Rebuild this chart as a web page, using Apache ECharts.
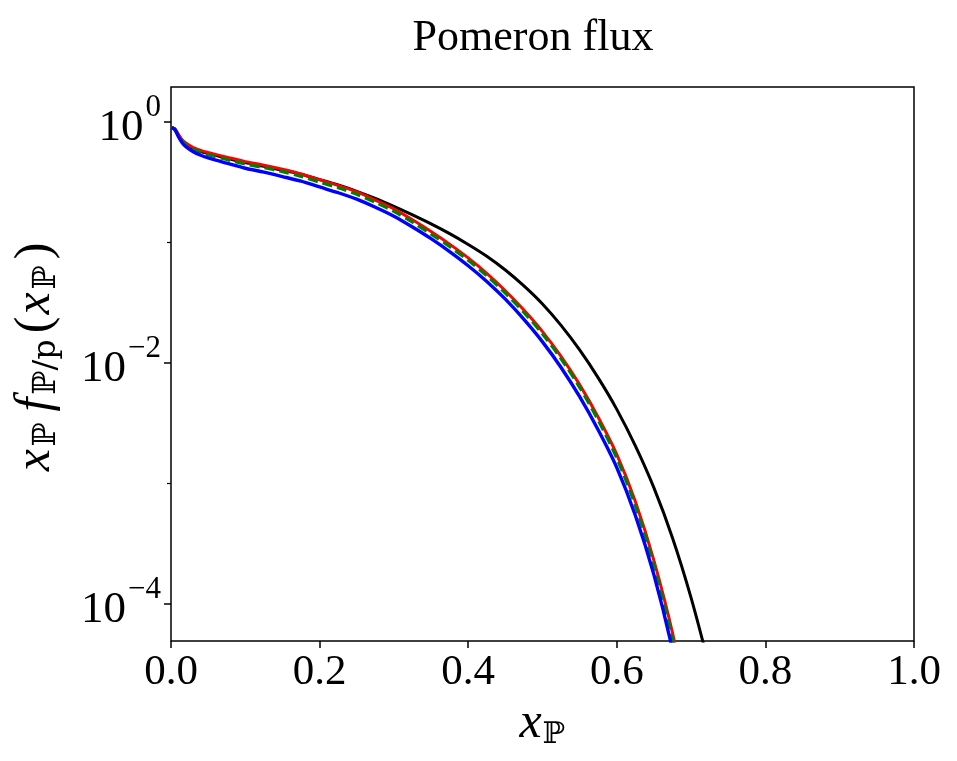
<!DOCTYPE html>
<html>
<head>
<meta charset="utf-8">
<title>Pomeron flux</title>
<script src="https://cdn.jsdelivr.net/npm/echarts@6/dist/echarts.min.js"></script>
<style>
html, body { margin: 0; background: #fff; }
#chart { width: 957px; height: 761px; }
</style>
</head>
<body>
<div id="chart"></div>
<script>
// x_P sample points
const xPom = [0.001, 0.005, 0.01, 0.015, 0.02, 0.03, 0.04, 0.05, 0.075, 0.1, 0.125, 0.15, 0.175,
  0.2, 0.225, 0.25, 0.275, 0.3, 0.325, 0.35, 0.375, 0.4, 0.425, 0.45, 0.475, 0.5, 0.525,
  0.55, 0.575, 0.6, 0.625, 0.65, 0.675, 0.7, 0.725];

// x_P f(x_P), one list per curve
const fluxBlack = [0.902, 0.881, 0.778, 0.702, 0.660, 0.605, 0.571, 0.549, 0.503, 0.462, 0.431, 0.399, 0.370,
  0.334, 0.301, 0.267, 0.233, 0.200, 0.170, 0.1432, 0.1189, 0.0968, 0.0773, 0.0594, 0.0438, 0.0310, 0.0206,
  0.01288, 0.00755, 0.00414, 0.00206, 0.000923, 0.000355, 0.000113, 0.0000296];
const fluxRed = [0.902, 0.881, 0.794, 0.716, 0.673, 0.617, 0.583, 0.560, 0.513, 0.471, 0.440, 0.407, 0.372,
  0.333, 0.299, 0.264, 0.226, 0.191, 0.155, 0.124, 0.0973, 0.0748, 0.0557, 0.0399, 0.0276, 0.0183, 0.0114,
  0.00664, 0.00356, 0.00175, 0.000711, 0.000230, 0.0000578, 0.0000103];
const fluxGreen = [0.902, 0.877, 0.779, 0.700, 0.655, 0.597, 0.562, 0.537, 0.490, 0.450, 0.420, 0.389, 0.355,
  0.318, 0.286, 0.252, 0.216, 0.182, 0.148, 0.118, 0.0929, 0.0714, 0.0532, 0.0381, 0.0264, 0.01748, 0.01089,
  0.00631, 0.00336, 0.00163, 0.000656, 0.000210, 0.0000521, 0.00000918];
const fluxBlue = [0.902, 0.871, 0.758, 0.676, 0.628, 0.569, 0.532, 0.505, 0.457, 0.415, 0.385, 0.354, 0.324,
  0.290, 0.260, 0.230, 0.197, 0.166, 0.135, 0.108, 0.0844, 0.0644, 0.0477, 0.0340, 0.0231, 0.01504, 0.00922,
  0.00527, 0.00279, 0.00136, 0.000545, 0.000175, 0.0000418, 0.00000713];

const yMajorTicks = [1, 0.01, 0.0001];
const yMinorTicks = [0.1, 0.001];

const serif = 'Liberation Serif, DejaVu Serif, serif';
const yMin = 4.95e-5;
const yMax = 1.96;

function pairs(vals) {
  return vals.map((v, i) => [xPom[i], v]);
}

function logLabel(value) {
  const e = Math.round(Math.log10(value));
  const s = e < 0 ? '\u2212' + (-e) : String(e);
  return '{b|10}{s|' + s + '}';
}

const chart = echarts.init(document.getElementById('chart'));

const option = {
  animation: false,
  backgroundColor: '#fff',
  title: {
    text: 'Pomeron flux',
    left: 528,
    top: 11,
    textAlign: 'center',
    textStyle: { fontFamily: serif, fontSize: 44, fontWeight: 'normal', color: '#000' }
  },
  grid: {
    left: 171, right: 43, top: 87, bottom: 120,
    show: true, borderColor: '#000', borderWidth: 1.5, backgroundColor: 'transparent'
  },
  xAxis: {
    type: 'value',
    min: 0, max: 1, interval: 0.2,
    axisLine: { show: false },
    axisTick: { show: true, length: 7, lineStyle: { color: '#000', width: 1.5 } },
    axisLabel: {
      color: '#000', fontFamily: serif, fontSize: 43, margin: 10,
      formatter: v => v.toFixed(1)
    },
    splitLine: { show: false },
    name: '{i|x}{s|\u2119}',
    nameLocation: 'middle',
    nameGap: 48,
    nameTextStyle: {
      rich: {
        i: { fontFamily: serif, fontStyle: 'italic', fontSize: 50, color: '#000' },
        s: { fontFamily: 'DejaVu Serif, serif', fontSize: 30, color: '#000', padding: [22, 0, 0, 1] }
      }
    }
  },
  yAxis: [
    {
      type: 'log',
      logBase: 10,
      min: yMin, max: yMax,
      axisLine: { show: false },
      axisTick: { show: true, length: 7, customValues: yMajorTicks, lineStyle: { color: '#000', width: 1.5 } },
      axisLabel: {
        customValues: yMajorTicks,
        margin: 10,
        formatter: logLabel,
        rich: {
          b: { fontFamily: serif, fontSize: 45, color: '#000', padding: [12, 0, 0, 0] },
          s: { fontFamily: serif, fontSize: 31, color: '#000', padding: [0, 0, 28, 2] }
        }
      },
      splitLine: { show: false },
      name: '{first|x}{s|\u2119}  {i|f}{s|\u2119/p}{n|(}{i|x}{s|\u2119}{n|)}',
      nameLocation: 'middle',
      nameRotate: 90,
      nameGap: 108,
      nameTextStyle: {
        rich: {
          first: { fontFamily: serif, fontStyle: 'italic', fontSize: 50, color: '#000', padding: [0, 0, 0, 16] },
          i: { fontFamily: serif, fontStyle: 'italic', fontSize: 50, color: '#000' },
          n: { fontFamily: serif, fontSize: 50, color: '#000', padding: [0, 2, 0, 2] },
          s: { fontFamily: 'DejaVu Serif, serif', fontSize: 32, color: '#000', padding: [22, 4, 0, 3] }
        }
      }
    },
    {
      type: 'log',
      logBase: 10,
      min: yMin, max: yMax,
      position: 'left',
      axisLine: { show: false },
      axisTick: { show: true, length: 4, customValues: yMinorTicks, lineStyle: { color: '#000', width: 1.2 } },
      axisLabel: { show: false },
      splitLine: { show: false }
    }
  ],
  series: [
    {
      name: 'black', type: 'line', data: pairs(fluxBlack), showSymbol: false, symbol: 'none',
      smooth: 0.3, lineStyle: { color: '#000', width: 3 }
    },
    {
      name: 'red', type: 'line', data: pairs(fluxRed), showSymbol: false, symbol: 'none',
      smooth: 0.3, lineStyle: { color: '#ff0000', width: 3 }
    },
    {
      name: 'green', type: 'line', data: pairs(fluxGreen), showSymbol: false, symbol: 'none',
      smooth: 0.3, lineStyle: { color: '#008000', width: 3.2, type: [10, 5] }
    },
    {
      name: 'blue', type: 'line', data: pairs(fluxBlue), showSymbol: false, symbol: 'none',
      smooth: 0.3, lineStyle: { color: '#0000ff', width: 3.4 }
    }
  ]
};

chart.setOption(option);
</script>
</body>
</html>
